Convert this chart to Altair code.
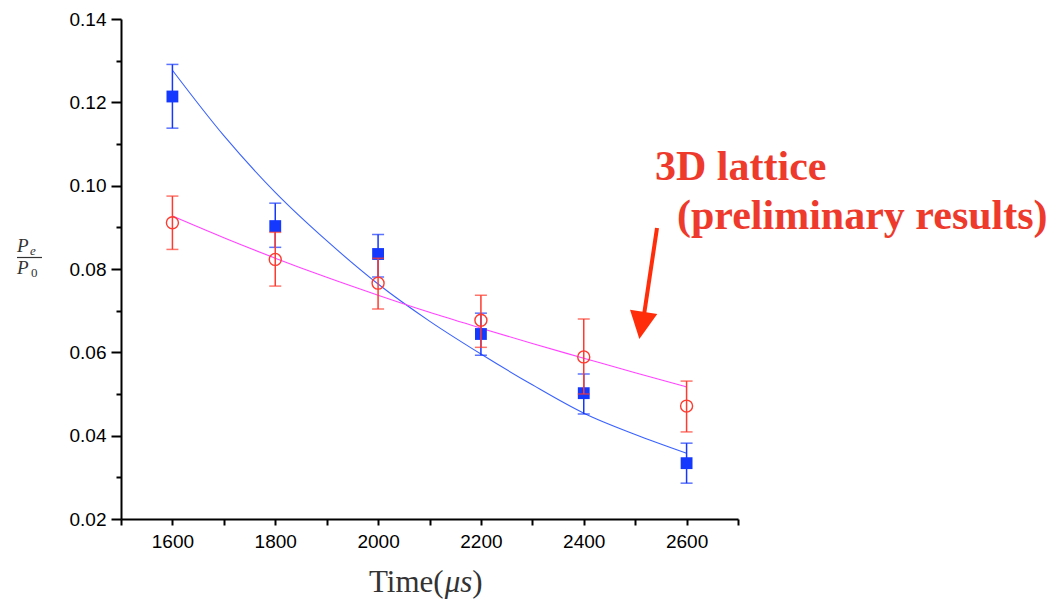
import altair as alt
import pandas as pd

# measured points
time = [1600, 1800, 2000, 2200, 2400, 2600]
blue_val = [0.1214, 0.0903, 0.0836, 0.0644, 0.0502, 0.0334]
blue_hi = [0.1291, 0.0958, 0.0883, 0.0694, 0.0548, 0.0382]
blue_lo = [0.1138, 0.0852, 0.0781, 0.0593, 0.0452, 0.0286]
red_val = [0.0911, 0.0823, 0.0766, 0.0677, 0.0589, 0.0471]
red_hi = [0.0975, 0.0888, 0.0826, 0.0737, 0.0680, 0.0531]
red_lo = [0.0847, 0.0759, 0.0704, 0.0612, 0.0500, 0.0409]

# fitted curves
fit_time = [1600, 1700, 1800, 1900, 2000, 2100, 2200, 2300, 2400, 2500, 2600]
blue_fit = [0.1277, 0.1120, 0.0984, 0.0868, 0.0764, 0.0675, 0.0596, 0.0522, 0.0454, 0.0403, 0.0358]
magenta_fit = [0.0927, 0.0875, 0.0826, 0.0780, 0.0737, 0.0696, 0.0658, 0.0621, 0.0586, 0.0551, 0.0517]

x_ticks = [1500, 1600, 1700, 1800, 1900, 2000, 2100, 2200, 2300, 2400, 2500, 2600, 2700]
y_ticks = [0.02, 0.03, 0.04, 0.05, 0.06, 0.07, 0.08, 0.09, 0.10, 0.11, 0.12, 0.13, 0.14]

BLUE = "#1538ff"
BLUE_LINE = "#3a62ff"
RED = "#ff3a2e"
MAGENTA = "#ff44ff"
ANNOT = "#ee3a2c"
ARROW = "#ff2d0a"

pts = pd.DataFrame({"t": time, "bv": blue_val, "bh": blue_hi, "bl": blue_lo,
                    "rv": red_val, "rh": red_hi, "rl": red_lo})
fits = pd.DataFrame({"t": fit_time, "bf": blue_fit, "mf": magenta_fit})

xscale = alt.Scale(domain=[1500, 2700], nice=False, zero=False)
yscale = alt.Scale(domain=[0.02, 0.14], nice=False, zero=False)

xaxis = alt.Axis(values=x_ticks, labelExpr="datum.value % 200 == 0 ? datum.label : ''",
                 format="d", tickSize=6, labelPadding=7, title=None)
yaxis = alt.Axis(values=y_ticks, format=".2f",
                 labelExpr="round(datum.value*100) % 2 == 0 ? datum.label : ''",
                 tickSize={"condition": {"test": "round(datum.value*100) % 2 == 0", "value": 10}, "value": 5},
                 labelPadding=5, title=None)

X = lambda f: alt.X(f, type="quantitative", scale=xscale, axis=xaxis)
Y = lambda f: alt.Y(f, type="quantitative", scale=yscale, axis=yaxis)

blue_curve = alt.Chart(fits).mark_line(color=BLUE_LINE, strokeWidth=1.1, interpolate="monotone").encode(
    x=X("t"), y=Y("bf"))
mag_curve = alt.Chart(fits).mark_line(color=MAGENTA, strokeWidth=1.1, interpolate="monotone").encode(
    x=X("t"), y=Y("mf"))

base = alt.Chart(pts)
b_err = base.mark_rule(color=BLUE, strokeWidth=1.5).encode(x=X("t"), y=Y("bl"), y2="bh")
b_cap_hi = base.mark_tick(color=BLUE, orient="horizontal", size=12, thickness=1.5).encode(x=X("t"), y=Y("bh"))
b_cap_lo = base.mark_tick(color=BLUE, orient="horizontal", size=12, thickness=1.5).encode(x=X("t"), y=Y("bl"))
b_pts = base.mark_point(shape="square", filled=True, size=140, color=BLUE, opacity=1).encode(x=X("t"), y=Y("bv"))

r_err = base.mark_rule(color=RED, strokeWidth=1.5).encode(x=X("t"), y=Y("rl"), y2="rh")
r_cap_hi = base.mark_tick(color=RED, orient="horizontal", size=12, thickness=1.5).encode(x=X("t"), y=Y("rh"))
r_cap_lo = base.mark_tick(color=RED, orient="horizontal", size=12, thickness=1.5).encode(x=X("t"), y=Y("rl"))
r_pts = base.mark_point(shape="circle", filled=False, size=144, color=RED, strokeWidth=1.4, opacity=1).encode(
    x=X("t"), y=Y("rv"))

one = alt.Data(values=[{}])

def txt(s, x, y, size, font="Liberation Serif", style="normal", weight="normal", color="#333333"):
    return alt.Chart(one).mark_text(text=s, align="left", baseline="alphabetic", font=font,
                                    fontSize=size, fontStyle=style, fontWeight=weight,
                                    color=color).encode(x=alt.value(x), y=alt.value(y))

ann1 = txt("3D lattice", 534, 161, 42, weight="bold", color=ANNOT)
ann2 = txt("(preliminary results)", 556, 210, 42, weight="bold", color=ANNOT)
arrow_line = alt.Chart(one).mark_rule(color=ARROW, strokeWidth=4).encode(
    x=alt.value(536), y=alt.value(209), x2=alt.value(523), y2=alt.value(296))
arrow_head = alt.Chart(one).mark_point(shape="M-1,-1L1,-1L0,1Z", size=760, filled=True, angle=9,
                                       color=ARROW, opacity=1, strokeWidth=0).encode(
    x=alt.value(520.5), y=alt.value(306.5))

# y title as fraction P_e / P_0
yt1 = txt("P", -104, 233, 19, style="italic")
yt2 = txt("e", -91, 236, 13, style="italic")
ybar = alt.Chart(one).mark_rule(color="#333333", strokeWidth=1.2).encode(
    x=alt.value(-104), x2=alt.value(-79), y=alt.value(238.5))
yt3 = txt("P", -104, 255, 19, style="italic")
yt4 = txt("0", -90, 258, 13)

# x title Time(μs)
fs = 31
xt1 = txt("Time(", 248, 573, fs)
xt2 = txt("μs", 248 + 2.444 * fs, 573, fs, style="italic")
xt3 = txt(")", 248 + 3.333 * fs, 573, fs)

chart = alt.layer(
    blue_curve, mag_curve,
    b_err, b_cap_hi, b_cap_lo, b_pts,
    r_err, r_cap_hi, r_cap_lo, r_pts,
    ann1, ann2, arrow_line, arrow_head,
    yt1, yt2, ybar, yt3, yt4, xt1, xt2, xt3,
).properties(
    width=617, height=500,
    autosize=alt.AutoSizeParams(type="none"),
    padding={"left": 121, "top": 19, "right": 319, "bottom": 81},
    background="white",
).configure_view(stroke=None).configure_axis(
    grid=False, domainColor="black", domainWidth=2, tickColor="black", tickWidth=2,
    labelFont="Liberation Sans", labelFontSize=19, labelColor="black",
)

chart.save("out.html", embed_options={"renderer": "svg", "actions": False})
